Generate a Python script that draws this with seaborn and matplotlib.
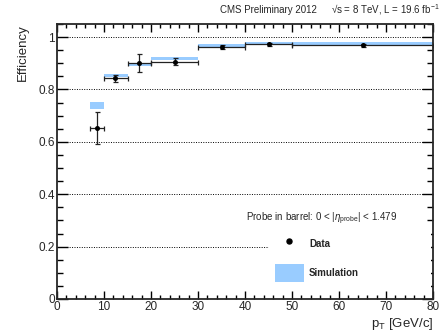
import numpy as np
import pandas as pd
import seaborn as sns
import matplotlib.pyplot as plt
from matplotlib.lines import Line2D
from matplotlib.patches import Patch
from matplotlib.ticker import MultipleLocator

# bins in pT [GeV/c]
bin_lo = [7, 10, 15, 20, 30, 40, 50]
bin_hi = [10, 15, 20, 30, 40, 50, 80]

# data points
data_pt = [8.5, 12.4, 17.5, 25.0, 35.0, 45.1, 65.2]
data_eff = [0.653, 0.842, 0.900, 0.906, 0.963, 0.972, 0.968]
data_err = [0.060, 0.012, 0.035, 0.013, 0.007, 0.006, 0.007]

# simulation bands
sim_eff = [0.738, 0.854, 0.893, 0.919, 0.969, 0.977, 0.977]
sim_err = [0.0125, 0.006, 0.004, 0.0055, 0.006, 0.006, 0.006]

grid_y = [0.2, 0.4, 0.6, 0.8, 1.0]

sns.set_style("ticks")
plt.rcParams['font.family'] = ['Liberation Sans', 'DejaVu Sans']
plt.rcParams['mathtext.fontset'] = 'custom'
plt.rcParams['mathtext.rm'] = 'Liberation Sans'
plt.rcParams['mathtext.it'] = 'Liberation Sans:italic'
plt.rcParams['mathtext.bf'] = 'Liberation Sans:bold'

df = pd.DataFrame({'pt': data_pt, 'eff': data_eff, 'err': data_err,
                   'lo': bin_lo, 'hi': bin_hi,
                   'sim': sim_eff, 'sim_err': sim_err})

fig = plt.figure(figsize=(4.44, 3.32), dpi=100)
ax = fig.add_axes([0.1284, 0.0994, 0.8468, 0.8283])

SIM_COLOR = '#99ccff'

# dotted grid lines (drawn manually so the legend can mask them)
for g in grid_y:
    ax.axhline(g, color='black', ls=(0, (1, 1.5)), lw=0.7, zorder=1)

# simulation boxes
ax.bar(x=(df['lo'] + df['hi']) / 2, height=2 * df['sim_err'],
       bottom=df['sim'] - df['sim_err'], width=df['hi'] - df['lo'],
       color=SIM_COLOR, edgecolor='none', zorder=2)

# data error bars
xerr = np.array([df['pt'] - df['lo'], df['hi'] - df['pt']])
ax.errorbar(df['pt'], df['eff'], yerr=df['err'], xerr=xerr, fmt='none',
            ecolor='#222222', elinewidth=0.9, capsize=1.8, capthick=0.9, zorder=3)
sns.scatterplot(data=df, x='pt', y='eff', ax=ax, color='black', s=13,
                edgecolor='black', linewidth=0, zorder=4, legend=False)

ax.set_xlim(0, 80)
ax.set_ylim(0, 1.05)
ax.xaxis.set_major_locator(MultipleLocator(10))
ax.xaxis.set_minor_locator(MultipleLocator(2))
ax.yaxis.set_major_locator(MultipleLocator(0.2))
ax.yaxis.set_minor_locator(MultipleLocator(0.05))
ax.set_yticks([0, 0.2, 0.4, 0.6, 0.8, 1.0])
ax.set_yticklabels(['0', '0.2', '0.4', '0.6', '0.8', '1'])

ax.tick_params(which='both', direction='in', top=True, right=True,
               labelsize=8.5, color='black', width=1.0)
ax.tick_params(axis='y', which='major', length=8)
ax.tick_params(axis='y', which='minor', length=4)
ax.tick_params(axis='x', which='major', length=6)
ax.tick_params(axis='x', which='minor', length=3)
ax.tick_params(axis='x', pad=1.5)
ax.tick_params(axis='y', pad=1.5)
for sp in ax.spines.values():
    sp.set_linewidth(1.3)
    sp.set_zorder(6)

ax.set_xlabel(r'p$_{\mathrm{T}}$ [GeV/c]', fontsize=9.5, loc='right', labelpad=2)
ax.set_ylabel('Efficiency', fontsize=9.5, loc='top', labelpad=7)

# header texts
fig.text(220 / 444, 1 - 10 / 332, 'CMS Preliminary 2012', fontsize=7, va='center', ha='left')
fig.text(331 / 444, 1 - 10 / 332, '\u221as = 8 TeV, L = 19.6 fb$^{-1}$',
         fontsize=7, va='center', ha='left')

# legend
ax.text(0.703, 0.29, r'Probe in barrel: 0 < |$\eta_{\mathrm{probe}}$| < 1.479',
        transform=ax.transAxes, fontsize=7, ha='center', va='center', zorder=7)
handles = [Line2D([], [], ls='none', marker='o', color='black', markersize=3.6),
           Patch(facecolor=SIM_COLOR, edgecolor='none')]
leg = ax.legend(handles, ['Data', 'Simulation'], loc='upper left',
                bbox_to_anchor=(0.564, 0.0, 0.43, 0.253), mode='expand',
                borderaxespad=0, borderpad=0.6,
                handlelength=3.0, handleheight=2.4, labelspacing=1.2,
                handletextpad=0.5, frameon=True, fancybox=False,
                prop={'size': 7, 'weight': 'bold'})
leg.get_frame().set_facecolor('white')
leg.get_frame().set_edgecolor('none')
leg.get_frame().set_alpha(1)
leg.set_zorder(2.2)

fig.savefig('out.png', dpi=100)
